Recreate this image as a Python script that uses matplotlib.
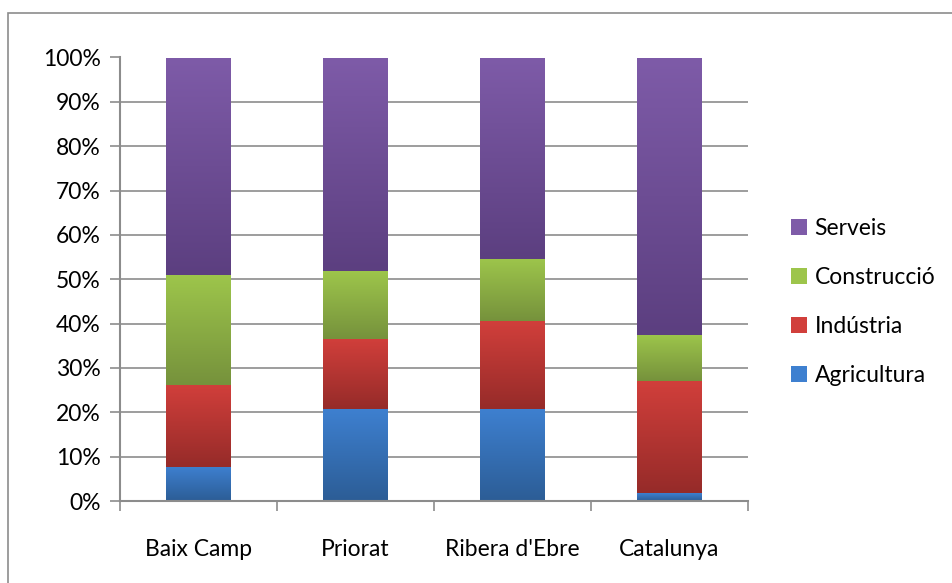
import matplotlib
matplotlib.use("Agg")
import matplotlib.pyplot as plt
import numpy as np
from matplotlib.colors import LinearSegmentedColormap
from matplotlib.patches import Rectangle, Patch
from matplotlib.ticker import PercentFormatter

plt.rcParams['font.family'] = ['Lato', 'DejaVu Sans']

regions = ["Baix Camp", "Priorat", "Ribera d'Ebre", "Catalunya"]
agricultura = [7.7, 20.8, 20.8, 1.8]
industria = [18.5, 15.8, 19.8, 25.3]
construccio = [24.8, 15.3, 14.0, 10.4]
serveis = [49.0, 48.1, 45.4, 62.5]

series = [
    ("Agricultura", agricultura, "#2c5d96", "#3e80d0"),
    ("Indústria", industria, "#962b29", "#d13f3b"),
    ("Construcció", construccio, "#76923c", "#9dc54b"),
    ("Serveis", serveis, "#5c3f80", "#7e5ba8"),
]

fs = 16.5

fig = plt.figure(figsize=(9.53, 5.83), dpi=100)
ax = fig.add_axes([120 / 953, 1 - 501 / 583, 628 / 953, 443.5 / 583])

# outer chart frame
fig.patches.append(Rectangle((8 / 953, -0.1), 1.2, (583 - 13) / 583 + 0.1,
                             transform=fig.transFigure, fill=False,
                             edgecolor="#8c8c8c", linewidth=1.2, zorder=0))

x = np.arange(len(regions))
bottom = np.zeros(len(regions))
handles = []
for name, vals, dark, light in series:
    vals = np.array(vals)
    bars = ax.bar(x, vals, 0.41, bottom=bottom, color=light, linewidth=0, zorder=2)
    cmap = LinearSegmentedColormap.from_list(name, [dark, light])
    grad = np.linspace(0, 1, 100).reshape(-1, 1)
    for b in bars:
        x0, y0 = b.get_x(), b.get_y()
        ax.imshow(grad, extent=[x0, x0 + b.get_width(), y0, y0 + b.get_height()],
                  origin="lower", aspect="auto", cmap=cmap, zorder=3,
                  interpolation="bilinear")
    bottom += vals
    handles.append(Patch(facecolor=light, edgecolor="none", label=name))

ax.set_xlim(-0.5, len(regions) - 0.5)
ax.set_ylim(0, 100)
ax.set_yticks(np.arange(0, 101, 10))
ax.yaxis.set_major_formatter(PercentFormatter(decimals=0))
ax.set_xticks(x)
ax.set_xticklabels(regions)
ax.set_xticks(np.arange(-0.5, len(regions)), minor=True)
ax.tick_params(axis="x", which="major", length=0, pad=27, labelsize=fs)
ax.tick_params(axis="x", which="minor", length=7, width=1.2, color="#8c8c8c")
ax.tick_params(axis="y", length=7, width=1.2, color="#8c8c8c", labelsize=fs, pad=7)
ax.grid(axis="y", color="#8c8c8c", linewidth=1.2, zorder=1)
ax.set_axisbelow(True)
for s in ["top", "right"]:
    ax.spines[s].set_visible(False)
for s in ["left", "bottom"]:
    ax.spines[s].set_color("#8c8c8c")
    ax.spines[s].set_linewidth(1.5)
    ax.spines[s].set_zorder(4)

fig.legend(handles=handles[::-1], loc="center left",
           bbox_to_anchor=(770 / 953, 1 - 302 / 583), frameon=False,
           fontsize=fs, handlelength=0.7, handleheight=0.7,
           handletextpad=0.35, labelspacing=1.22)

fig.savefig("out.png", dpi=100)
